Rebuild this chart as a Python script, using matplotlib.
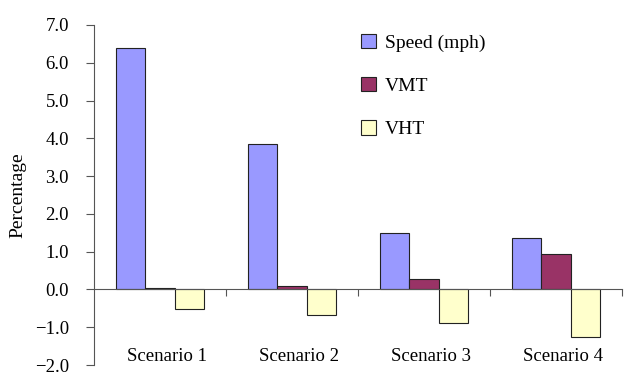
import matplotlib
matplotlib.use('Agg')
import matplotlib.pyplot as plt
import numpy as np

scenarios = ['Scenario 1', 'Scenario 2', 'Scenario 3', 'Scenario 4']
speed = [6.38, 3.84, 1.50, 1.37]
vmt = [0.03, 0.08, 0.28, 0.95]
vht = [-0.53, -0.67, -0.90, -1.25]

plt.rcParams['font.family'] = ['Liberation Serif', 'DejaVu Serif']
plt.rcParams['font.size'] = 13.5

fig = plt.figure(figsize=(6.25, 3.72), dpi=100)
ax = fig.add_axes([0.1504, 0.0188, 0.8448, 0.914])

x = np.arange(len(scenarios))
w = 0.224
ax.bar(x - w, speed, w, color='#9999FF', edgecolor='#222222', linewidth=0.8, label='Speed (mph)')
ax.bar(x, vmt, w, color='#993366', edgecolor='#222222', linewidth=0.8, label='VMT')
ax.bar(x + w, vht, w, color='#FFFFCC', edgecolor='#222222', linewidth=0.8, label='VHT')

ax.set_xlim(-0.5, 3.5)
ax.set_ylim(-2, 7)
ax.set_yticks(np.arange(-2, 8, 1))
ax.yaxis.set_major_formatter(matplotlib.ticker.FuncFormatter(lambda v, p: ('%.1f' % v).replace('-', '\u2212')))
ax.set_xticks(x + 0.5)
ax.set_xticklabels([])
ax.tick_params(axis='x', direction='out', length=5, width=0.8, color='#555555')
ax.tick_params(axis='y', direction='out', length=6, width=0.8, color='#555555', pad=12)

for s in ['top', 'right']:
    ax.spines[s].set_visible(False)
ax.spines['bottom'].set_position(('data', 0))
ax.spines['bottom'].set_color('#555555')
ax.spines['left'].set_color('#555555')
ax.spines['bottom'].set_linewidth(0.8)
ax.spines['left'].set_linewidth(0.8)

for xi, name in zip(x, scenarios):
    ax.text(xi + 0.05, -1.78, name, ha='center', va='center')

ax.set_ylabel('Percentage', fontsize=14, labelpad=6)

ax.legend(loc='upper left', bbox_to_anchor=(0.473, 1.025), frameon=False, fontsize=14,
          labelspacing=1.3, handlelength=0.75, handleheight=0.75, handletextpad=0.45)

fig.savefig('out.png')
